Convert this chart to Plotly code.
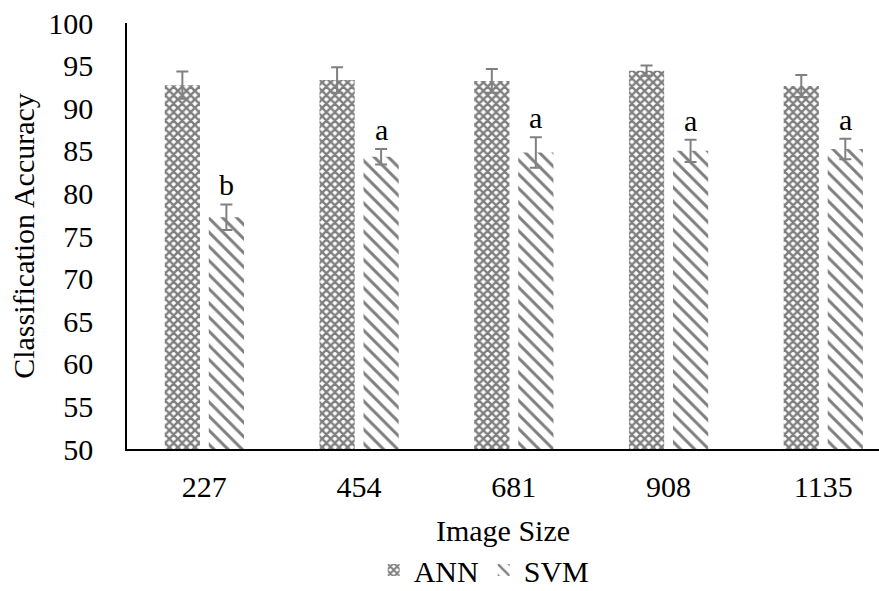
import plotly.graph_objects as go

categories = ["227", "454", "681", "908", "1135"]
ann_values = [92.7, 93.3, 93.2, 94.4, 92.6]
ann_errors = [1.6, 1.5, 1.4, 0.6, 1.3]
svm_values = [77.2, 84.3, 84.8, 85.0, 85.2]
svm_errors = [1.5, 0.9, 1.8, 1.3, 1.2]
svm_letters = ["b", "a", "a", "a", "a"]

FONT = "Liberation Serif, Times New Roman, serif"
FS = 30
err_style = dict(type="data", thickness=2, width=6, color="#808080")

fig = go.Figure()
fig.add_trace(go.Bar(
    name="ANN", x=categories, y=[v - 50 for v in ann_values], base=50,
    error_y=dict(array=ann_errors, **err_style),
    marker=dict(color="white", line=dict(width=0),
                pattern=dict(shape="x", fgcolor="black", bgcolor="white",
                             size=6, solidity=0.65)),
))
fig.add_trace(go.Bar(
    name="SVM", x=categories, y=[v - 50 for v in svm_values], base=50,
    error_y=dict(array=svm_errors, **err_style),
    marker=dict(color="white", line=dict(width=0),
                pattern=dict(shape="\\", fgcolor="black", bgcolor="white",
                             size=10, solidity=0.3)),
))

for i, (cat, v, e, t) in enumerate(zip(categories, svm_values, svm_errors, svm_letters)):
    fig.add_annotation(x=i + 0.142, y=v + e, xref="x", yref="y", text=t,
                       showarrow=False, yanchor="bottom", yshift=1,
                       font=dict(family=FONT, size=FS, color="black"))

fig.update_layout(
    width=879, height=591,
    margin=dict(l=127, r=0, t=23, b=142, autoexpand=False),
    paper_bgcolor="white", plot_bgcolor="white",
    barmode="group", bargap=0.431, bargroupgap=0.2,
    font=dict(family=FONT, size=FS, color="black"),
    showlegend=True,
    legend=dict(orientation="h", x=0.475, xanchor="center", y=-0.284, yanchor="middle",
                font=dict(family=FONT, size=FS, color="black"), itemwidth=30,
                traceorder="normal", tracegroupgap=0),
    xaxis=dict(type="category", range=[-0.5, 4.36], showline=True, linecolor="black",
               linewidth=1.5, ticks="", ticklabelstandoff=10, automargin=False,
               tickfont=dict(color="black"),
               title=dict(text="Image Size", standoff=18, font=dict(size=FS, color="black"))),
    yaxis=dict(range=[50, 100], dtick=5, showline=True, linecolor="black", linewidth=1.5,
               showgrid=False, zeroline=False, ticks="", ticklabelstandoff=26, automargin=False,
               tickfont=dict(color="black"),
               title=dict(text="Classification Accuracy", standoff=5,
                          font=dict(size=FS, color="black"))),
)

fig.write_html("out.html")
